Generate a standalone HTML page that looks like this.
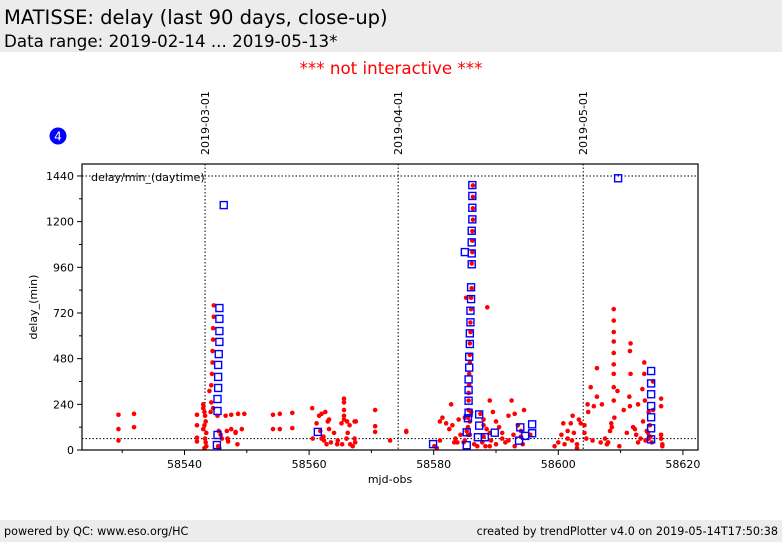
<!DOCTYPE html>
<html><head><meta charset="utf-8"><style>
body{margin:0;width:782px;height:542px;background:#fff;font-family:"DejaVu Sans","Liberation Sans",sans-serif;overflow:hidden;position:relative}
.hdr{position:absolute;left:0;top:0;width:782px;height:52px;background:#ececec}
.t1{position:absolute;left:4px;top:6px;font-size:19.5px;color:#000}
.t2{position:absolute;left:4px;top:31px;font-size:16.7px;color:#000}
.ni{position:absolute;left:0;width:782px;top:58px;text-align:center;color:#f00;font-size:16.7px}
.ftr{position:absolute;left:0;top:520px;width:782px;height:22px;background:#ececec;font-size:11.2px}
</style></head><body>
<div class="hdr">
<div class="t1">MATISSE: delay (last 90 days, close-up)</div>
<div class="t2">Data range: 2019-02-14 ... 2019-05-13*</div>
</div>
<div class="ni">*** not interactive ***</div>
<svg id="chart" width="782" height="542" style="position:absolute;left:0;top:0"></svg>
<div class="ftr">
<span style="position:absolute;left:4px;top:5px">powered by QC: www.eso.org/HC</span>
<span style="position:absolute;right:4px;top:5px">created by trendPlotter v4.0 on 2019-05-14T17:50:38</span>
</div>
<script>
const xTicks=[58540,58560,58580,58600,58620];
const yTicks=[0,240,480,720,960,1200,1440];
const dateLines=[58543.3,58574.3,58604];
const dateLabels=["2019-03-01","2019-04-01","2019-05-01"];
const refLines=[1440,60];
const redX=[58529.4,58529.4,58529.4,58531.9,58531.9,
58542,58542,58542,58542,58543,58543,58543.2,58543.3,58543.4,58543.2,58543,58543.5,58543.3,58543.4,58543.5,58543.2,
58544.7,58544.7,58544.6,58544.6,58544.5,58544.5,58544.4,58544.3,58544,58544.3,58544.6,58544.2,
58545.3,58545.5,58545.8,58546,58545.4,58545.6,
58546.6,58547.5,58548.6,58549.6,58546.8,58547.5,58548.2,58549.2,58546.9,58547,58548.5,58548.2,
58554.2,58555.3,58557.3,58554.2,58555.3,58557.3,
58560.5,58561.6,58562,58562.6,58563.2,58563,58561.2,58561.8,58562.3,58562.4,58563.5,58563.2,58564,58564.6,58562,58562.8,58565.6,58565.6,58565.6,58565.6,58565.6,58565.2,58566.1,58566.5,58567.3,58567.5,58566.2,58566,58565.3,58566.6,58567.3,58567.4,58567,58564.5,58560.6,
58570.6,58570.6,58570.6,58573,58575.6,58575.6,
58580.1,58580.5,58581,58581,58581.4,58582,58582.5,58582.8,58583,58583.3,58583.5,58584,58584.3,58585,58585,58585.3,58585.8,58585.8,58586,
58586.3,58586.3,58586.3,58586.3,58586.2,58586.2,58586.2,58586.1,58586.1,58586,58586,58585.9,58585.9,58585.8,58585.8,58585.8,58585.7,58585.7,58585.6,58585.6,58585.6,58585.5,58585.5,58585.5,
58585.2,58588.6,
58587.5,58588,58588,58588.5,58589,58588,58589.5,58589,58590,58590.5,58591,58591,58591.5,58592,58592.5,58593,58593.5,58594,58594,58594.5,58594.3,58593,58592,58590,58589,58587.8,58588.3,58589.2,58586.5,58587,58595.5,58592.8,58583.8,58584.8,
58599.4,58600,58600.5,58600.8,58601,58601.5,58601.5,58602,58602.3,58602.5,58602.2,58603,58603,58603.3,58603.6,58604.2,58604.5,58604.2,58604.8,58604.7,58605.2,58605.7,58605.5,58606.2,58606.2,58606.8,58607,58607.5,58607.8,58608.3,58608.5,58608.6,58609,58609.5,58609.8,58608,
58608.9,58608.9,58608.9,58608.9,58608.9,58608.9,58608.9,58608.9,58608.9,
58610.5,58611,58611.5,58611.6,58611.5,58611.6,58611.4,58612,58612.3,58612.5,58612.8,58613.8,58613.8,58613.5,58613.9,58613.6,58614,58614.2,58614.5,58614.7,58614.4,58614.8,58615,58614.5,58615.2,58615.2,58613.2,58612.8,
58616.5,58616.5,58616.5,58616.5,58616.7,58616.7];
const redY=[185,110,50,190,120,
185,130,65,45,240,220,200,180,150,130,110,90,60,40,20,10,
760,700,640,580,520,460,400,340,310,250,220,200,
180,100,80,60,20,10,
180,185,190,190,100,110,95,110,60,45,30,90,
185,190,195,110,110,115,
220,180,190,200,160,150,140,100,70,50,40,110,90,50,60,30,160,180,210,250,270,140,150,130,150,150,90,60,30,30,60,40,20,30,60,
210,125,95,50,95,100,
20,10,50,150,170,140,110,240,130,40,60,160,80,50,170,100,80,150,200,
1390,1330,1270,1210,1150,1100,1040,980,850,800,740,670,620,560,500,460,400,340,300,260,210,170,120,80,
800,750,
190,160,130,110,90,70,200,260,150,120,90,60,40,180,260,190,130,100,70,210,30,20,50,30,20,40,20,50,30,20,80,80,40,40,
20,40,80,140,30,60,100,140,180,90,50,30,10,160,140,90,60,130,200,240,330,230,50,430,280,40,240,60,30,100,140,120,170,310,20,40,
740,680,620,570,510,450,400,330,260,
210,90,230,560,520,400,280,120,110,80,240,460,400,320,260,150,50,100,200,130,90,70,40,60,360,210,60,40,
270,230,80,60,30,20];
const blueX=[58545.6,58545.6,58545.6,58545.6,58545.5,58545.4,58545.4,58545.4,58545.3,58545.3,58545.3,58545.2,58546.3,
58561.4,58579.9,
58586.2,58586.2,58586.2,58586.2,58586.1,58586.1,58586.1,58586.1,58586,58586,58585.9,58585.9,58585.8,58585.8,58585.7,58585.7,58585.6,58585.6,58585.6,58585.6,58585.5,58585.3,58585.3,58585,
58587.3,58587.3,58587.1,58588.2,58589.8,58593.9,58594.7,58593.7,58595.8,58595.8,
58609.6,58614.9,58614.9,58614.9,58614.9,58614.9,58614.9,58614.9];
const blueY=[746,689,625,568,504,447,384,326,268,205,79,26,1287,
95,31,
1392,1335,1273,1212,1152,1091,1033,976,855,793,732,671,613,557,490,433,371,315,259,196,167,93,25,1040,
187,128,67,67,91,119,74,49,135,88,
1428,415,350,293,231,172,114,56];

const L=82,R=698,T=164,B=450;
const xs=v=>184.5+(v-58540)*6.23;
const ys=v=>450-v*0.1903;
const svg=document.getElementById('chart');
const NS='http://www.w3.org/2000/svg';
function mk(tag,at,parent){const e=document.createElementNS(NS,tag);for(const k in at)e.setAttribute(k,at[k]);(parent||svg).appendChild(e);return e;}

let e=mk('rect',{x:L,y:T,width:R-L,height:B-T,fill:'#fff',stroke:'none'});



dateLines.forEach((d,i)=>{
 const x=xs(d);
 let l=mk('line',{x1:x,x2:x,y1:T,y2:B,stroke:'#000','stroke-width':1,'stroke-dasharray':'1.5,2'});
 
 
 let t=mk('text',{x:0,y:0,transform:`translate(${x+4},155) rotate(-90)`,'font-size':11,fill:'#000'});
 t.textContent=dateLabels[i];
 
 
});
refLines.forEach(v=>{
 let l=mk('line',{x1:L,x2:R,y1:ys(v),y2:ys(v),stroke:'#000','stroke-width':1,'stroke-dasharray':'1.5,2'});
 
 
});

redX.forEach((v,i)=>{
 let c=mk('circle',{cx:xs(v),cy:ys(redY[i]),r:2.3,fill:'#f00'});
 
 
});
blueX.forEach((v,i)=>{
 let r=mk('rect',{x:xs(v)-3.5,y:ys(blueY[i])-3.5,width:7,height:7,fill:'none',stroke:'#00f','stroke-width':1.4});
 
 
});

e=mk('rect',{x:L,y:T,width:R-L,height:B-T,fill:'none',stroke:'#000','stroke-width':1.2});



xTicks.forEach(v=>{
 const x=xs(v);
 let l=mk('line',{x1:x,x2:x,y1:B,y2:B+5,stroke:'#000'});
 
 
 let m=mk('line',{x1:x-62.3,x2:x-62.3,y1:B,y2:B+3,stroke:'#000'});
 
 
 let t=mk('text',{x:x,y:B+18,'font-size':11,'text-anchor':'middle',fill:'#000'});
 t.textContent=v;
 
 
});
yTicks.forEach((v,i)=>{
 const y=ys(v);
 let l=mk('line',{x1:L-5,x2:L,y1:y,y2:y,stroke:'#000'});
 
 
 if(i>0){let m=mk('line',{x1:L-3,x2:L,y1:ys(v-120),y2:ys(v-120),stroke:'#000'});
 
 }
 let t=mk('text',{x:L-8,y:y+4,'font-size':11,'text-anchor':'end',fill:'#000'});
 t.textContent=v;
 
 
});
let t=mk('text',{x:390,y:483,'font-size':11,'text-anchor':'middle'});t.textContent='mjd-obs';


t=mk('text',{x:0,y:0,transform:'translate(37,307) rotate(-90)','font-size':11,'text-anchor':'middle'});t.textContent='delay_(min)';


t=mk('text',{x:91,y:181,'font-size':11});t.textContent='delay/min_(daytime)';


let c=mk('circle',{cx:58,cy:136,r:8.5,fill:'#00f'});


t=mk('text',{x:58,y:140.5,'font-size':12,'text-anchor':'middle',fill:'#fff'});t.textContent='4';


</script>
</body></html>
